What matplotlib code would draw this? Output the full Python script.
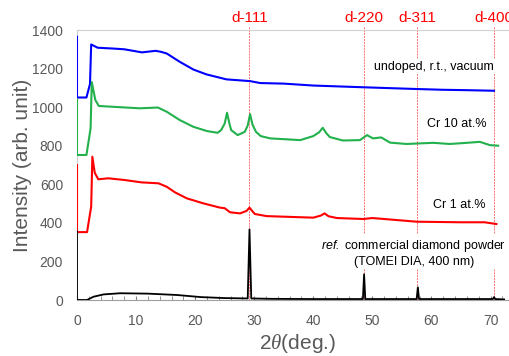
"""XRD patterns: undoped / Cr-doped samples vs. reference diamond powder."""
import numpy as np
import matplotlib
matplotlib.use("Agg")
import matplotlib.pyplot as plt
from matplotlib.ticker import MultipleLocator

plt.rcParams["font.family"] = ["Liberation Sans", "DejaVu Sans"]
plt.rcParams["mathtext.fontset"] = "custom"
plt.rcParams["mathtext.rm"] = "Liberation Sans"
plt.rcParams["mathtext.it"] = "Liberation Serif:italic"
plt.rcParams["mathtext.sf"] = "Liberation Sans:italic"  # used for italic "ref."

# undoped, r.t., vacuum (blue)
x_blue = [0, 0, 1.6, 2.2, 2.4, 3.5, 6, 8, 11, 13.3, 14.2, 15.2, 17.4, 19.7, 21.9,
          25.3, 29.3, 31, 35, 40, 48.5, 57.5, 62, 66, 70.6]
y_blue = [1365, 1050, 1050, 1120, 1325, 1308, 1304, 1300, 1284, 1292, 1287, 1278, 1235,
          1195, 1170, 1144, 1135, 1125, 1122, 1112, 1103, 1094, 1090, 1088, 1085]

# Cr 10 at.% (green)
x_green = [0, 0, 1.6, 2.3, 2.5, 3.1, 3.7, 6, 10.6, 13.7, 15.2, 17.4, 19.7, 22, 23.8,
           24.4, 25.0, 25.4, 25.8, 26.1, 27.2, 28.4, 28.9, 29.3, 29.7, 30.3, 31.1, 32.7,
           37.8, 40, 41.0, 41.6, 42.2, 42.8, 45, 47.9, 49.1, 50.1, 51.5, 53, 55.8, 60.3,
           63.1, 66, 68.2, 69.9, 71.3]
y_green = [1040, 752, 752, 890, 1130, 1037, 1006, 1002, 994, 998, 976, 933, 898, 876, 867,
           881, 915, 971, 915, 881, 855, 872, 905, 964, 910, 872, 850, 838,
           829, 850, 870, 893, 865, 845, 827, 829, 855, 838, 843, 816, 809, 815,
           809, 815, 820, 803, 800]

# Cr 1 at.% (red)
x_red = [0, 0, 1.7, 2.4, 2.6, 3.0, 3.6, 5.3, 8.1, 10.9, 13.8, 15.2, 16.6, 18.6, 21.4,
         24.2, 25.0, 25.9, 27.6, 28.7, 29.2, 29.7, 30.1, 32.1, 35, 40, 41.3, 41.9, 42.6,
         44, 48.5, 50, 57.5, 65, 69, 71]
y_red = [700, 352, 352, 484, 743, 660, 626, 631, 622, 610, 605, 587, 558, 527, 501,
         479, 476, 455, 449, 462, 479, 460, 446, 435, 432, 427, 438, 449, 434,
         425, 420, 425, 406, 403, 403, 394]

# ref. commercial diamond powder (black)
x_ref = [0, 0, 1.7, 2.2, 2.8, 4.5, 7.3, 12, 16.9, 21, 25, 28.9, 29.2, 29.5, 33, 40,
         48.4, 48.6, 48.8, 57.5, 57.7, 57.9, 70.4, 70.6, 70.8, 72.3]
y_ref = [355, 0, 0, 8, 17, 29, 35, 33, 26, 15, 10, 8, 366, 8, 6, 5,
         5, 133, 5, 5, 66, 5, 5, 15, 5, 3]

# diamond reflections
d_labels = ["d-111", "d-220", "d-311", "d-400"]
d_pos = [29.2, 48.6, 57.6, 70.6]

fig = plt.figure(figsize=(5.1, 3.56), dpi=100)
ax = fig.add_axes([77 / 510, 56 / 356, 433 / 510, 270 / 356])

for xp, lab in zip(d_pos, d_labels):
    ax.axvline(xp, ymin=0, ymax=1.015, color="#ff7070", lw=0.7,
               ls=(0, (2, 1)), clip_on=False, zorder=1)
    ax.text(xp, 1462, lab, color="red", fontsize=11, ha="center", va="center")

ax.plot(x_blue, y_blue, color="#0000ff", lw=1.5, zorder=3)
ax.plot(x_green, y_green, color="#22b14c", lw=1.5, zorder=3)
ax.plot(x_red, y_red, color="#ff0000", lw=1.5, zorder=3)
ax.plot(x_ref, y_ref, color="black", lw=1.3, zorder=3)

box = dict(facecolor="white", edgecolor="none", pad=1)
ax.text(70.6, 1209, "undoped, r.t., vacuum", fontsize=9, ha="right", va="center",
        bbox=box, zorder=2)
ax.text(69.3, 911, "Cr 10 at.%", fontsize=9, ha="right", va="center", bbox=box, zorder=2)
ax.text(69.1, 492, "Cr 1 at.%", fontsize=9, ha="right", va="center", bbox=box, zorder=2)
ax.text(57.0, 245, "$\\mathsf{ref.}$ commercial diamond powder\n(TOMEI DIA, 400 nm)",
        fontsize=9, ha="center", va="center", multialignment="center",
        linespacing=1.25, bbox=box, zorder=2)

ax.set_xlim(0, 73.3)
ax.set_ylim(0, 1400)
ax.xaxis.set_major_locator(MultipleLocator(10))
ax.xaxis.set_minor_locator(MultipleLocator(2))
ax.yaxis.set_major_locator(MultipleLocator(200))
ax.tick_params(axis="x", which="both", direction="in", length=3, color="#808080",
               labelsize=10, labelcolor="#595959", pad=10)
ax.tick_params(axis="y", length=0, labelsize=10, labelcolor="#595959", pad=10)

ax.spines["right"].set_visible(False)
ax.spines["top"].set_color("#d0d0d0")
ax.spines["left"].set_color("#d0d0d0")
ax.spines["bottom"].set_color("#a0a0a0")

ax.set_ylabel("Intensity (arb. unit)", fontsize=15, color="#595959")
ax.yaxis.set_label_coords(-0.105, 0.5)
ax.set_xlabel("2$\\theta$(deg.)", fontsize=15, color="#595959")
ax.xaxis.set_label_coords(0.51, -0.118)

fig.savefig("out.png", dpi=100)
